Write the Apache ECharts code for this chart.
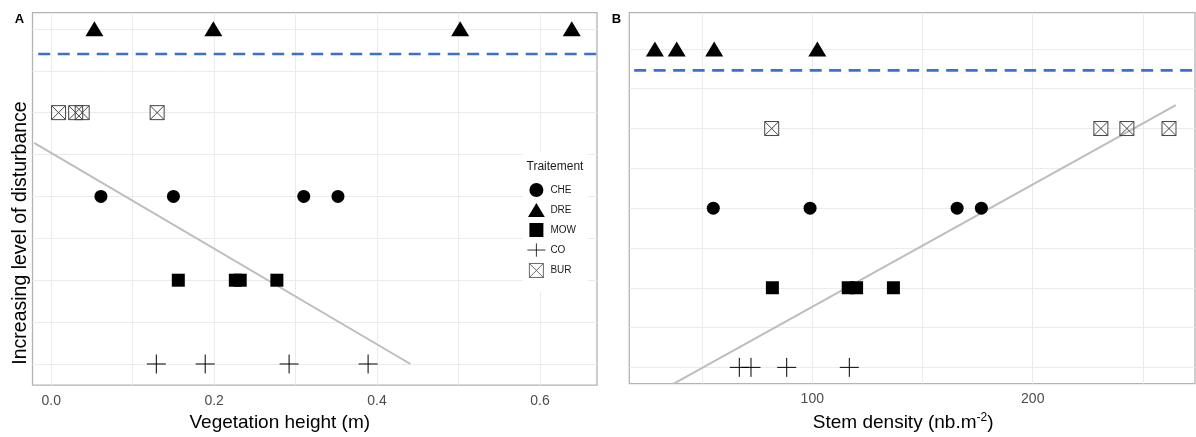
<!DOCTYPE html>
<html><head><meta charset="utf-8">
<script src="https://cdn.jsdelivr.net/npm/echarts@6/dist/echarts.min.js"></script>
<style>html,body{margin:0;padding:0;background:#fff}#c{width:1196px;height:437px}</style>
</head><body><div id="c"></div>
<script>
// ---- data ----
const treatments = ['CHE', 'DRE', 'MOW', 'CO', 'BUR'];
const levels = { CO: 1, MOW: 2, CHE: 3, BUR: 4, DRE: 5 };

// Panel A: vegetation height (m)
const heightCHE = [0.061, 0.150, 0.310, 0.352];
const heightDRE = [0.053, 0.199, 0.502, 0.639];
const heightMOW = [0.156, 0.226, 0.232, 0.277];
const heightCO  = [0.129, 0.189, 0.292, 0.389];
const heightBUR = [0.009, 0.030, 0.038, 0.130];

// Panel B: stem density (nb.m-2)
const densityCHE = [55.1, 99.0, 165.7, 176.7];
const densityDRE = [28.6, 38.5, 55.5, 102.3];
const densityMOW = [81.9, 116.3, 120.1, 136.8];
const densityCO  = [66.9, 72.2, 88.4, 116.8];
const densityBUR = [81.6, 230.9, 242.7, 261.8];

// fitted lines and thresholds
const fitA = [[-0.021, 3.64], [0.441, 1.0]];
const fitB = [[37.2, 0.796], [264.9, 4.293]];
const thresholdA = [[-0.016, 4.70], [0.67, 4.70]];
const thresholdB = [[19.2, 4.73], [273.6, 4.73]];

const xTickLabelsA = [0.0, 0.2, 0.4, 0.6];
const xTickLabelsB = [100, 200];

// ---- styling ----
const FONT = 'Liberation Sans, Arial, sans-serif';
const SYM = {
  CHE: 'circle', DRE: 'triangle', MOW: 'rect',
  CO: 'path://M0,10L20,10M10,0L10,20',
  BUR: 'path://M0,0L20,0L20,20L0,20ZM0,0L20,20M20,0L0,20'
};
const LEGEND_ICON = {
  CHE: 'circle',
  DRE: 'path://M9,0L18,15L0,15Z',
  MOW: 'path://M0,0L10,0L10,10L0,10Z',
  CO: 'path://M0,7L19,7M9.5,0L9.5,14',
  BUR: 'path://M0,0L20,0L20,20L0,20ZM0,0L20,20M20,0L0,20'
};
const LEGEND_STYLE = {
  CO: { borderWidth: 0.8, borderColor: '#000' },
  BUR: { borderWidth: 0.8, borderColor: '#444' }
};
const SIZE = { CHE: 13, DRE: [18, 15], MOW: 13, CO: 19, BUR: 14 };
const STYLE = {
  CHE: { color: '#000', opacity: 1 }, DRE: { color: '#000', opacity: 1 }, MOW: { color: '#000', opacity: 1 },
  CO: { color: 'rgba(0,0,0,0)', borderColor: '#000', borderWidth: 1, opacity: 1 },
  BUR: { color: 'rgba(0,0,0,0)', borderColor: '#444', borderWidth: 1, opacity: 1 }
};
const dataA = { CHE: heightCHE, DRE: heightDRE, MOW: heightMOW, CO: heightCO, BUR: heightBUR };
const dataB = { CHE: densityCHE, DRE: densityDRE, MOW: densityMOW, CO: densityCO, BUR: densityBUR };

function scatter(name, values, idx) {
  return {
    type: 'scatter', name, xAxisIndex: idx, yAxisIndex: idx,
    symbol: SYM[name], symbolSize: SIZE[name], itemStyle: STYLE[name],
    data: values.map(v => [v, levels[name]]), z: 5, silent: true
  };
}
function lineS(data, idx, style) {
  return { type: 'line', xAxisIndex: idx, yAxisIndex: idx, data, symbol: 'none',
    lineStyle: style, z: 3, silent: true, clip: true };
}
function isTick(list, v) { return list.some(t => Math.abs(t - v) < 1e-9); }

const splitStyle = { show: true, showMinLine: false, showMaxLine: false, lineStyle: { color: '#ebebeb', width: 1 } };
const labelStyle = { color: '#4d4d4d', fontSize: 14, fontFamily: FONT, margin: 9, showMinLabel: false, showMaxLabel: false };

const series = [];
series.push(lineS(fitA, 0, { color: '#bdbdbd', width: 2 }));
series.push(lineS(fitB, 1, { color: '#bdbdbd', width: 2 }));
series.push(lineS(thresholdA, 0, { color: '#3b6fd0', width: 2.6, type: [12, 7.5] }));
series.push(lineS(thresholdB, 1, { color: '#3b6fd0', width: 2.6, type: [12, 7.5] }));
treatments.forEach(t => series.push(scatter(t, dataA[t], 0)));
treatments.forEach(t => series.push(scatter(t, dataB[t], 1)));

const chart = echarts.init(document.getElementById('c'), null, { renderer: 'canvas' });
chart.setOption({
  animation: false,
  backgroundColor: '#fff',
  textStyle: { fontFamily: FONT },
  grid: [
    { left: 32.5, top: 12.7, width: 564.5, height: 376.3, show: true, borderColor: '#b3b3b3', borderWidth: 1.3, backgroundColor: '#fff' },
    { left: 629.3, top: 12.7, width: 565.7, height: 374, show: true, borderColor: '#b3b3b3', borderWidth: 1.3, backgroundColor: '#fff' }
  ],
  xAxis: [
    { type: 'value', gridIndex: 0, min: -0.023, max: 0.67, splitNumber: 5,
      axisLine: { show: false }, axisTick: { show: false }, splitLine: splitStyle,
      axisLabel: Object.assign({}, labelStyle, { formatter: v => isTick(xTickLabelsA, v) ? v.toFixed(1) : '' }),
      name: 'Vegetation height (m)', nameLocation: 'middle', nameGap: 25,
      nameTextStyle: { fontSize: 19, color: '#000', fontFamily: FONT, padding: [0, 70, 0, 0] } },
    { type: 'value', gridIndex: 1, min: 17, max: 273.6, splitNumber: 5,
      axisLine: { show: false }, axisTick: { show: false }, splitLine: splitStyle,
      axisLabel: Object.assign({}, labelStyle, { formatter: v => isTick(xTickLabelsB, v) ? String(v) : '' }),
      name: 'Stem density (nb.m{sup|-2})', nameLocation: 'middle', nameGap: 25,
      nameTextStyle: { fontSize: 19, color: '#000', fontFamily: FONT, padding: [0, 18, 0, 0],
        rich: { sup: { fontSize: 12, color: '#000', fontFamily: FONT, padding: [0, 0, 10, 0] } } } }
  ],
  yAxis: [
    { type: 'value', gridIndex: 0, min: 0.748, max: 5.193, splitNumber: 9,
      axisLine: { show: false }, axisTick: { show: false }, axisLabel: { show: false }, splitLine: splitStyle },
    { type: 'value', gridIndex: 1, min: 0.796, max: 5.455, splitNumber: 9,
      axisLine: { show: false }, axisTick: { show: false }, axisLabel: { show: false }, splitLine: splitStyle }
  ],
  legend: {
    data: treatments.map(t => Object.assign({ name: t, icon: LEGEND_ICON[t] },
      LEGEND_STYLE[t] ? { itemStyle: LEGEND_STYLE[t] } : {})),
    orient: 'vertical', left: 523, top: 152,
    padding: [31, 12, 14, 4], backgroundColor: '#fff',
    itemWidth: 18, itemHeight: 14, itemGap: 6, selectedMode: false,
    textStyle: { fontSize: 10, color: '#1a1a1a', fontFamily: FONT }
  },
  graphic: [
    { type: 'text', z: 10, x: 21, y: 233, rotation: Math.PI / 2,
      style: { text: 'Increasing level of disturbance', fontSize: 19.5, fontFamily: FONT, fill: '#000', align: 'center', verticalAlign: 'middle' } },
    { type: 'text', z: 10, x: 19.5, y: 19, style: { text: 'A', fontSize: 13, fontWeight: 'bold', fontFamily: FONT, fill: '#000', align: 'center', verticalAlign: 'middle' } },
    { type: 'text', z: 10, x: 616.5, y: 19, style: { text: 'B', fontSize: 13, fontWeight: 'bold', fontFamily: FONT, fill: '#000', align: 'center', verticalAlign: 'middle' } },
    { type: 'text', z: 10, x: 526.5, y: 167, style: { text: 'Traitement', fontSize: 12, fontFamily: FONT, fill: '#1a1a1a', align: 'left', verticalAlign: 'middle' } }
  ],
  series
});
</script></body></html>
